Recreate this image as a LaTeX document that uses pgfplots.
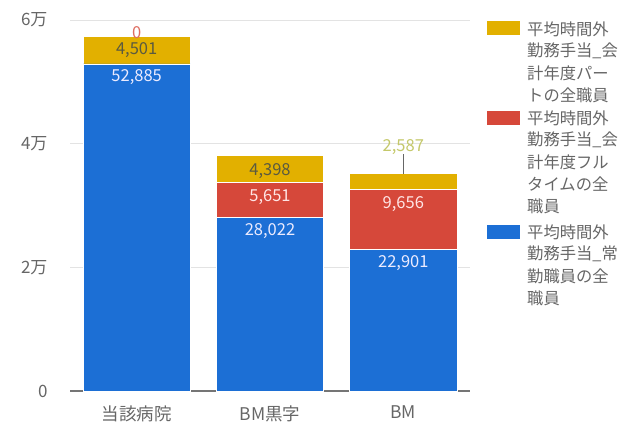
\documentclass[border=0pt]{standalone}
\usepackage{pgfplots}
\pgfplotsset{compat=1.18}
\usepackage{fontspec}
\setmainfont{Noto Sans CJK JP}
\definecolor{cblue}{HTML}{1C6FD5}
\definecolor{cred}{HTML}{D6483A}
\definecolor{cgold}{HTML}{E2B000}
\definecolor{ctext}{HTML}{666666}
\definecolor{cdark}{HTML}{5A5A40}
\definecolor{clight}{HTML}{C4C86A}
\tikzset{lab/.style={inner sep=0pt, font=\fontsize{16.5}{19}\selectfont},
         leg/.style={anchor=west, inner sep=0pt, text=ctext, font=\fontsize{16.3}{19}\selectfont}}
\begin{document}
\begin{tikzpicture}[x=1pt,y=1pt]
\useasboundingbox (0pt,0pt) rectangle (634pt,434pt);
\begin{axis}[
  at={(70pt,43pt)}, anchor=south west,
  scale only axis, width=400pt, height=371pt,
  xmin=-0.5, xmax=2.5, ymin=0, ymax=60000,
  ybar stacked, bar width=0.805,
  xtick={0,1,2}, xticklabels={当該病院,BM黒字,BM},
  ytick={0,20000,40000,60000}, yticklabels={0,2万,4万,6万},
  scaled y ticks=false,
  major tick length=0pt,
  axis x line*=bottom, axis y line*=left,
  x axis line style={draw=ctext!90, line width=1.3pt, -},
  y axis line style={draw=none},
  ymajorgrids, major grid style={gray!22, line width=0.5pt},
  xticklabel style={text=ctext, font=\fontsize{17.5}{20}\selectfont, yshift=-11pt},
  yticklabel style={text=ctext, font=\fontsize{17}{20}\selectfont, xshift=-19pt},
  clip=false,
  after end axis/.code={
    \node[lab, text=white!92!blue] at (axis cs:0,50700) {52,885};
    \node[lab, text=white!92!blue] at (axis cs:1,25870) {28,022};
    \node[lab, text=white!92!blue] at (axis cs:2,20640) {22,901};
    \node[lab, text=white!90!red] at (axis cs:1,31370) {5,651};
    \node[lab, text=white!90!red] at (axis cs:2,30300) {9,656};
    \node[lab, text=cred!80] at (axis cs:0,58000) {0};
    \node[lab, text=cdark] at (axis cs:0,55140) {4,501};
    \node[lab, text=cdark] at (axis cs:1,35580) {4,398};
    \node[lab, text=clight] at (axis cs:2,39460) {2,587};
    \draw[ctext, line width=0.6pt] (axis cs:2,35144) -- (axis cs:2,38250);
  },
]
\addplot[fill=cblue, draw=white, line width=0.6pt] coordinates {(0,52885) (1,28022) (2,22901)};
\addplot[fill=cred, draw=white, line width=0.6pt] coordinates {(0,0) (1,5651) (2,9656)};
\addplot[fill=cgold, draw=white, line width=0.6pt] coordinates {(0,4501) (1,4398) (2,2587)};
\end{axis}
\fill[cgold] (487pt,399pt) rectangle (520pt,413pt);
\fill[cred] (487pt,309pt) rectangle (520pt,323pt);
\fill[cblue] (487pt,195pt) rectangle (520pt,209pt);
\node[leg] at (527pt,405pt) {平均時間外};
\node[leg] at (527pt,383pt) {勤務手当\_会};
\node[leg] at (527pt,361pt) {計年度パー};
\node[leg] at (527pt,339pt) {トの全職員};
\node[leg] at (527pt,316pt) {平均時間外};
\node[leg] at (527pt,294pt) {勤務手当\_会};
\node[leg] at (527pt,272pt) {計年度フル};
\node[leg] at (527pt,250pt) {タイムの全};
\node[leg] at (527pt,228pt) {職員};
\node[leg] at (527pt,202pt) {平均時間外};
\node[leg] at (527pt,180pt) {勤務手当\_常};
\node[leg] at (527pt,158pt) {勤職員の全};
\node[leg] at (527pt,136pt) {職員};
\end{tikzpicture}
\end{document}
